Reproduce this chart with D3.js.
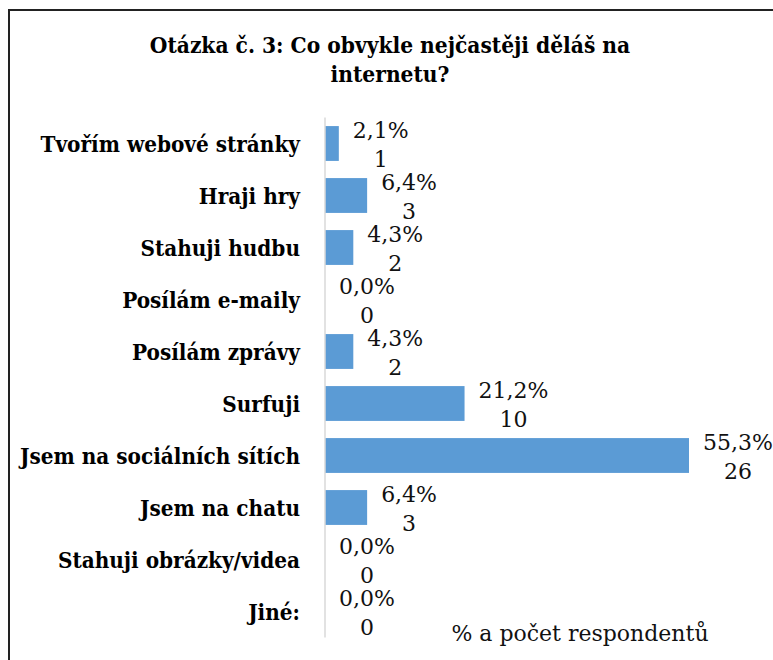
<!DOCTYPE html>
<html>
<head>
<meta charset="utf-8">
<script src="https://cdn.jsdelivr.net/npm/d3@7"></script>
<style>
  html, body { margin: 0; padding: 0; background: #fff; }
  svg { display: block; }
</style>
</head>
<body>
<script>
// question 3 answers, % and count of respondents
var categories = ['Tvořím webové stránky', 'Hraji hry', 'Stahuji hudbu', 'Posílám e-maily',
  'Posílám zprávy', 'Surfuji', 'Jsem na sociálních sítích', 'Jsem na chatu',
  'Stahuji obrázky/videa', 'Jiné:'];
var percents = [2.1, 6.4, 4.3, 0.0, 4.3, 21.2, 55.3, 6.4, 0.0, 0.0];
var counts = [1, 3, 2, 0, 2, 10, 26, 3, 0, 0];
var titleLines = ['Otázka č. 3: Co obvykle nejčastěji děláš na', 'internetu?'];
var axisTitle = '% a počet respondentů';

var width = 773, height = 660;
var font = 'DejaVu Serif, serif';

var svg = d3.select('body').append('svg')
  .attr('width', width)
  .attr('height', height);

// chart frame (runs off the right and bottom edge)
svg.append('rect')
  .attr('x', 9).attr('y', 10)
  .attr('width', 800).attr('height', 700)
  .attr('fill', '#fff')
  .attr('stroke', '#222')
  .attr('stroke-width', 2);

svg.append('text')
  .attr('x', 390).attr('y', 53)
  .attr('text-anchor', 'middle')
  .style('font-family', font)
  .style('font-weight', 'bold')
  .style('font-stretch', 'condensed')
  .style('font-size', '22.5px')
  .selectAll('tspan')
  .data(titleLines)
  .join('tspan')
  .attr('x', 390)
  .attr('dy', (d, i) => i ? 29 : 0)
  .text(d => d);

var x = d3.scaleLinear().domain([0, 55.3]).range([325, 689]);
var y = d3.scaleBand().domain(categories).range([117.5, 637.5]).paddingInner(0.33).paddingOuter(0.165);

var rows = categories.map((c, i) => ({ name: c, pct: percents[i], n: counts[i] }));

svg.append('g')
  .selectAll('rect')
  .data(rows)
  .join('rect')
  .attr('x', x(0))
  .attr('y', d => y(d.name))
  .attr('width', d => x(d.pct) - x(0))
  .attr('height', y.bandwidth())
  .attr('fill', '#5b9bd5');

// category axis: just the line and the labels
var yAxis = svg.append('g')
  .attr('transform', 'translate(' + x(0) + ',0)')
  .call(d3.axisLeft(y).tickSize(0).tickPadding(25));
yAxis.select('.domain').attr('stroke', '#d9d9d9').attr('stroke-width', 1.5)
  .attr('d', 'M0,' + y.range()[0] + 'V' + y.range()[1]);
yAxis.selectAll('text')
  .attr('fill', '#000')
  .attr('dy', '0.36em')
  .style('font-family', font)
  .style('font-weight', 'bold')
  .style('font-stretch', 'condensed')
  .style('font-size', '22.3px');

// data labels: percent on top, count centred under it
var labels = svg.append('g')
  .style('font-family', font)
  .style('font-size', '22px')
  .attr('fill', '#111')
  .selectAll('g')
  .data(rows)
  .join('g')
  .attr('transform', d => 'translate(' + (x(d.pct) + 14) + ',' + (y(d.name) + y.bandwidth() / 2) + ')');

labels.append('text')
  .attr('class', 'pct')
  .attr('y', -6)
  .text(d => d.pct.toFixed(1).replace('.', ',') + '%');

labels.append('text')
  .attr('text-anchor', 'middle')
  .attr('y', 23)
  .attr('x', function() {
    var w = this.parentNode.querySelector('.pct').getComputedTextLength();
    return w / 2;
  })
  .text(d => d.n);

svg.append('text')
  .attr('x', 580).attr('y', 641)
  .attr('text-anchor', 'middle')
  .style('font-family', font)
  .style('font-size', '22px')
  .attr('fill', '#111')
  .text(axisTitle);
</script>
</body>
</html>
